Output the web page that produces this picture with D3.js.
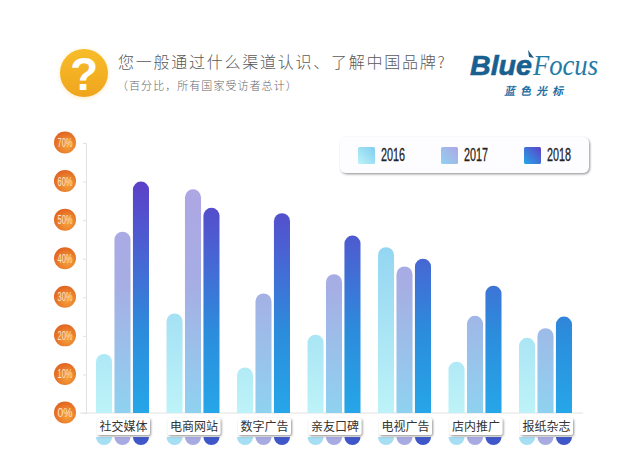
<!DOCTYPE html>
<html><head><meta charset="utf-8">
<script src="https://cdn.jsdelivr.net/npm/d3@7/dist/d3.min.js"></script>
<style>html,body{margin:0;background:#fff}svg{display:block}</style></head>
<body><svg id="c" width="640" height="452"></svg>
<script>
const categories=["社交媒体","电商网站","数字广告","亲友口碑","电视广告","店内推广","报纸杂志"];
const years=["2016","2017","2018"];
const v2016=[15.3,25.8,11.8,20.3,43,13.3,19.5];
const v2017=[47,58,31,36,38,25.2,22];
const v2018=[60,53.2,51.8,46,40,33,25];
const ticks=[0,10,20,30,40,50,60,70];
const seriesValues=[v2016,v2017,v2018];
const stops=[
 [["#7fcdf0",0],["#98d8f2",.35],["#bdf3f8",1]],
 [["#aea6e4",0],["#a6aee4",.45],["#8fd2f0",1]],
 [["#5c40c8",0],["#4a62d2",.3],["#2c8cdc",.65],["#26a6e8",1]]];
const capColors=["#a6def3","#a8aae2","#3f57c8"];

const svg=d3.select("#c");
const y=d3.scaleLinear().domain([0,70]).range([413,143]);
const x0=d3.scaleBand().domain(categories).range([86,579.5]);
const x1=d3.scaleBand().domain(years).range([10,63]).paddingInner(0.13).paddingOuter(0);
const defs=svg.append("defs");
stops.forEach((s,i)=>{
 const g=defs.append("linearGradient").attr("id","g"+i).attr("gradientUnits","userSpaceOnUse")
  .attr("x1",0).attr("x2",0).attr("y1",y(60)).attr("y2",y(0));
 s.forEach(d=>g.append("stop").attr("offset",d[1]).attr("stop-color",d[0]));
 const lb=defs.append("linearGradient").attr("id","lb"+i).attr("x1",0).attr("x2",1).attr("y1",1).attr("y2",0);
 [s[0],s[s.length-1]].reverse().forEach((d,k)=>lb.append("stop").attr("offset",k).attr("stop-color",d[0]));
});
const org=defs.append("radialGradient").attr("id","org").attr("cx",.6).attr("cy",.65).attr("r",.7);
org.append("stop").attr("offset",0).attr("stop-color","#f6a33c");
org.append("stop").attr("offset",1).attr("stop-color","#e0601f");
const gold=defs.append("linearGradient").attr("id","gold").attr("x1",0).attr("x2",0).attr("y1",0).attr("y2",1);
gold.append("stop").attr("offset",0).attr("stop-color","#f7bd2a");
gold.append("stop").attr("offset",1).attr("stop-color","#f0a51e");
const sh=defs.append("filter").attr("id","sh").attr("x","-10%").attr("y","-20%").attr("width","120%").attr("height","150%");
sh.append("feDropShadow").attr("dx",1).attr("dy",1.2).attr("stdDeviation",.8).attr("flood-color","#666").attr("flood-opacity",.7);
const glow=defs.append("filter").attr("id","glow").attr("x","-30%").attr("y","-30%").attr("width","160%").attr("height","160%");
glow.append("feDropShadow").attr("dx",0).attr("dy",1).attr("stdDeviation",2).attr("flood-color","#f6c24a").attr("flood-opacity",.35);

// header
svg.append("circle").attr("cx",84).attr("cy",73).attr("r",24).attr("fill","url(#gold)").attr("filter","url(#glow)");
svg.append("text").attr("x",84).attr("y",90).attr("text-anchor","middle").attr("fill","#fff")
 .attr("font-family","Liberation Sans").attr("font-weight",700).attr("font-size",46).text("?");
svg.append("text").attr("x",118).attr("y",68).attr("font-family","Noto Sans CJK SC").attr("font-weight",300)
 .attr("font-size",16).attr("letter-spacing",1.75).attr("fill","#5a5a5a").text("您一般通过什么渠道认识、了解中国品牌?");
svg.append("text").attr("x",117).attr("y",90).attr("font-family","Noto Sans CJK SC").attr("font-weight",300)
 .attr("font-size",11).attr("letter-spacing",1.05).attr("fill","#666")
 .text("\uFF08\u767E\u5206\u6BD4\uFF0C\u6240\u6709\u56FD\u5BB6\u53D7\u8BBF\u8005\u603B\u8BA1\uFF09");

// logo
svg.append("text").attr("x",470).attr("y",75).attr("font-family","Liberation Sans").attr("font-weight",700)
 .attr("font-style","italic").attr("font-size",28).attr("fill","#17608f").attr("stroke","#17608f").attr("stroke-width",.6)
 .attr("textLength",62).attr("lengthAdjust","spacingAndGlyphs").text("Blue");
svg.append("text").attr("x",533).attr("y",75).attr("font-family","Liberation Serif").attr("font-style","italic")
 .attr("font-size",30).attr("fill","#1f7ba6").attr("textLength",65).attr("lengthAdjust","spacingAndGlyphs").text("Focus");
svg.append("path").attr("d","M528,50L534,58L529,57Z").attr("fill","#1d5f86");
svg.append("text").attr("x",504).attr("y",95).attr("font-family","Noto Sans CJK SC").attr("font-weight",700)
 .attr("font-style","italic").attr("font-size",11).attr("letter-spacing",5).attr("fill","#1f6fa3").text("蓝色光标");

// axis
const axisG=svg.append("g").attr("transform","translate(86,0)");
axisG.call(d3.axisLeft(y).tickValues(ticks).tickSize(3).tickFormat(""));
axisG.select(".domain").attr("stroke","#e2e2e2");
axisG.selectAll(".tick line").attr("stroke","#e2e2e2");
svg.append("line").attr("x1",80).attr("x2",583).attr("y1",y(0)).attr("y2",y(0)).attr("stroke","#e2e2e2");
const tg=svg.append("g").selectAll("g").data(ticks).join("g").attr("transform",d=>`translate(65,${y(d)-.5})`);
tg.append("circle").attr("r",11).attr("fill","url(#org)");
tg.append("text").attr("text-anchor","middle").attr("y",4.5).attr("font-family","Liberation Sans")
 .attr("font-size",12).attr("fill","#fde4cc").attr("textLength",15).attr("lengthAdjust","spacingAndGlyphs").text(d=>d+"%");

// bars
const rows=years.flatMap((yr,i)=>categories.map((c,j)=>({yr,i,c,v:seriesValues[i][j]})));
const bw=x1.bandwidth();
svg.append("g").selectAll("path").data(rows).join("path")
 .attr("d",d=>{const X=x0(d.c)+x1(d.yr),t=y(d.v),r=bw/2,b=y(0);
   return `M${X},${b}V${t+r}A${r},${r} 0 0 1 ${X+bw},${t+r}V${b}Z`;})
 .attr("fill",d=>`url(#g${d.i})`);
// lower caps below the labels
svg.append("g").selectAll("path").data(rows).join("path")
 .attr("d",d=>{const X=x0(d.c)+x1(d.yr),r=bw/2,t=437;
   return `M${X},${t}A${r},${r} 0 0 0 ${X+bw},${t}Z`;})
 .attr("fill",d=>capColors[d.i]);

// category labels
const lab=svg.append("g").selectAll("g").data(categories).join("g").attr("transform",d=>`translate(${x0(d)+37.5},0)`);
lab.append("rect").attr("x",-26.5).attr("y",418).attr("width",53).attr("height",17).attr("rx",2)
 .attr("fill","#fff").attr("filter","url(#sh)");
lab.append("text").attr("text-anchor","middle").attr("y",431).attr("font-family","Noto Sans CJK SC")
 .attr("font-size",12).attr("fill","#333").text(d=>d);

// legend
svg.append("rect").attr("x",340).attr("y",137).attr("width",249).attr("height",36).attr("rx",6)
 .attr("fill","#fdfcff").attr("filter","url(#sh)");
const lx=d3.scalePoint().domain(years).range([358,524]);
const lg=svg.append("g").selectAll("g").data(years).join("g").attr("transform",d=>`translate(${lx(d)},147)`);
lg.append("rect").attr("width",17).attr("height",17).attr("rx",1.5).attr("fill",(d,i)=>`url(#lb${i})`);
lg.append("text").attr("x",23).attr("y",14).attr("font-family","Liberation Sans").attr("font-size",19)
 .attr("fill","#222").attr("stroke","#222").attr("stroke-width",.3).attr("textLength",24).attr("lengthAdjust","spacingAndGlyphs").text(d=>d);
</script></body></html>
